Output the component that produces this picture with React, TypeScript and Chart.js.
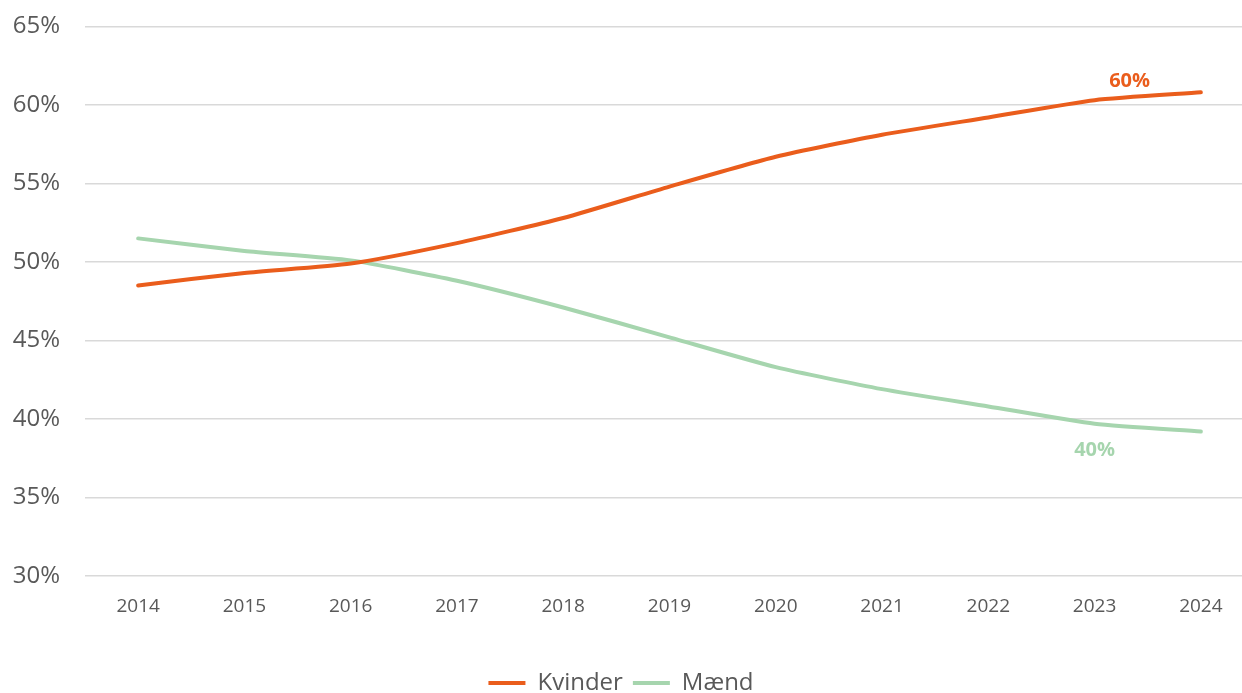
import React, { useEffect, useRef } from "react";
import { Chart, registerables } from "chart.js";

Chart.register(...registerables);

const years = ["2014", "2015", "2016", "2017", "2018", "2019", "2020", "2021", "2022", "2023", "2024"];
const kvinder = [48.5, 49.3, 49.9, 51.2, 52.8, 54.8, 56.7, 58.1, 59.2, 60.3, 60.8];
const maend = [51.5, 50.7, 50.1, 48.8, 47.1, 45.2, 43.3, 41.9, 40.8, 39.7, 39.2];
const kvinderLabels = ["", "", "", "", "", "", "", "", "", "60%", ""];
const maendLabels = ["", "", "", "", "", "", "", "", "", "40%", ""];
const yMin = 30;
const yMax = 65;
const yStep = 5;

const ORANGE = "#EA5D1C";
const GREEN = "#A6D5AE";
const TEXT = "#595959";
const FONT = "'Open Sans', 'DejaVu Sans', sans-serif";

const pointLabelPlugin = {
  id: "pointLabels",
  afterDatasetsDraw(chart: any) {
    const ctx = chart.ctx;
    const cfgs = [
      { ds: 0, labels: kvinderLabels, dx: 35, dy: -19, color: ORANGE },
      { ds: 1, labels: maendLabels, dx: 0, dy: 27, color: GREEN },
    ];
    ctx.save();
    ctx.font = `bold 20px ${FONT}`;
    ctx.textAlign = "center";
    ctx.textBaseline = "middle";
    for (const c of cfgs) {
      const meta = chart.getDatasetMeta(c.ds);
      c.labels.forEach((t, i) => {
        if (!t) return;
        const el = meta.data[i];
        ctx.fillStyle = c.color;
        ctx.fillText(t, el.x + c.dx, el.y + c.dy);
      });
    }
    ctx.restore();
  },
};

export default function App() {
  const ref = useRef<HTMLCanvasElement | null>(null);
  useEffect(() => {
    if (!ref.current) return;
    const chart = new Chart(ref.current, {
      type: "line",
      data: {
        labels: years,
        datasets: [
          {
            label: "Kvinder",
            data: kvinder,
            borderColor: ORANGE,
            backgroundColor: ORANGE,
            borderWidth: 4,
            pointRadius: 0,
            tension: 0.2,
            borderCapStyle: "round",
          },
          {
            label: "Mænd",
            data: maend,
            borderColor: GREEN,
            backgroundColor: GREEN,
            borderWidth: 4,
            pointRadius: 0,
            tension: 0.2,
            borderCapStyle: "round",
          },
        ],
      },
      options: {
        responsive: false,
        animation: false,
        devicePixelRatio: 1,
        layout: { padding: { top: 13, left: 0, right: 0, bottom: 0 } },
        plugins: {
          tooltip: { enabled: false },
          legend: {
            position: "bottom",
            labels: {
              usePointStyle: true,
              pointStyle: "line",
              pointStyleWidth: 37,
              color: TEXT,
              font: { family: FONT, size: 24 },
              padding: 10,
              boxHeight: 24,
            },
          },
        },
        scales: {
          x: {
            offset: true,
            grid: { display: false, drawTicks: false },
            border: { display: false },
            ticks: {
              color: TEXT,
              font: { family: FONT, size: 19 },
              padding: 19,
              maxRotation: 0,
            },
            afterFit(scale: any) {
              scale.height = 85;
            },
          },
          y: {
            min: yMin,
            max: yMax,
            grid: { color: "#D9D9D9", lineWidth: 1.5, drawTicks: false },
            border: { display: false },
            ticks: {
              stepSize: yStep,
              color: TEXT,
              font: { family: FONT, size: 24 },
              padding: 25,
              callback: (v: any) => `${v}%`,
            },
            afterFit(scale: any) {
              scale.width = 97;
            },
          },
        },
      },
      plugins: [pointLabelPlugin],
    });
    return () => chart.destroy();
  }, []);

  return (
    <div
      style={{
        position: "fixed",
        left: 0,
        top: 0,
        width: 1242,
        height: 693,
        overflow: "hidden",
        background: "#fff",
      }}
    >
      <canvas
        ref={ref}
        width={1266}
        height={718}
        style={{ position: "absolute", left: -12, top: -13, width: 1266, height: 718 }}
      />
    </div>
  );
}
